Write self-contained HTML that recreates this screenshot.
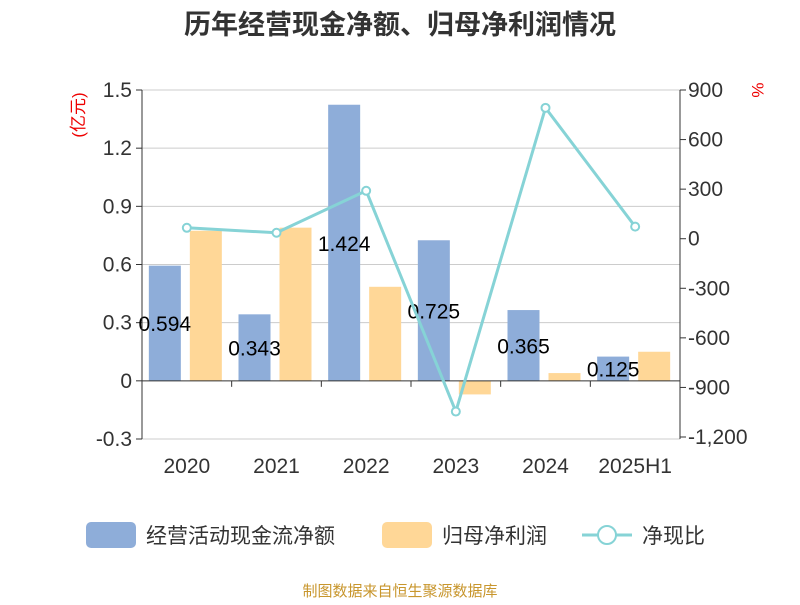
<!DOCTYPE html>
<html><head><meta charset="utf-8"><style>
body{margin:0;background:#fff;font-family:"Liberation Sans","Noto Sans CJK SC",sans-serif}
</style></head><body>
<svg id="c" width="800" height="600" xmlns="http://www.w3.org/2000/svg" font-family="Liberation Sans, Noto Sans CJK SC, sans-serif">
<text x="400" y="34" text-anchor="middle" font-size="27" font-weight="bold" fill="#333">历年经营现金净额、归母净利润情况</text>
<text transform="translate(84,115) rotate(-90)" text-anchor="middle" font-size="17" fill="#e00">(亿元)</text>
<text transform="translate(752,90) rotate(90)" text-anchor="middle" font-size="17" fill="#e00">%</text>
<g id="plot"></g>
<g>
<rect x="86" y="522" width="50" height="26" rx="5" fill="#8eadd9"/>
<text x="146" y="543" font-size="21" fill="#333">经营活动现金流净额</text>
<rect x="382" y="522" width="50" height="26" rx="5" fill="#ffd797"/>
<text x="442" y="543" font-size="21" fill="#333">归母净利润</text>
<line x1="582" y1="535" x2="632" y2="535" stroke="#86d3d6" stroke-width="3"/>
<circle cx="607" cy="535" r="9" fill="#fff" stroke="#86d3d6" stroke-width="2"/>
<text x="642" y="543" font-size="21" fill="#333">净现比</text>
</g>
<text x="400" y="596" text-anchor="middle" font-size="15" fill="#c8962d">制图数据来自恒生聚源数据库</text>
</svg>
<script>
const categories=["2020","2021","2022","2023","2024","2025H1"];
const cashFlow=[0.594,0.343,1.424,0.725,0.365,0.125];
const netProfit=[0.774,0.79,0.485,-0.07,0.04,0.15];
const ratio=[66,36,290,-1046,792,73];
const leftTicks=[1.5,1.2,0.9,0.6,0.3,0,-0.3];
const leftTickLabels=["1.5","1.2","0.9","0.6","0.3","0","-0.3"];
const rightTicks=[900,600,300,0,-300,-600,-900,-1200];
const rightTickLabels=["900","600","300","0","-300","-600","-900","-1,200"];
const NS="http://www.w3.org/2000/svg";
const g=document.getElementById('plot');
const X0=142,X1=680,T=90,B=439;
const yL=v=>T+(1.5-v)/1.8*(B-T);
const yR=v=>T+(900-v)/2100*(437-T);
const bw=(X1-X0)/categories.length;
const xc=i=>X0+bw*(i+0.5);
function mk(t,a){const e=document.createElementNS(NS,t);for(const k in a)e.setAttribute(k,a[k]);g.appendChild(e);return e;}
leftTicks.forEach((v,i)=>{
 const y=yL(v);
 if(v!==0){const l=mk('line',{x1:X0,x2:X1,y1:y,y2:y,stroke:'#ccc'});
 
 }
 const tk=mk('line',{x1:X0-6,x2:X0,y1:y,y2:y,stroke:'#333'});
 
 
 const t=mk('text',{x:X0-10,y:y+7,'text-anchor':'end','font-size':21,fill:'#333'});t.textContent=leftTickLabels[i];
 
 
});
rightTicks.forEach((v,i)=>{
 const y=yR(v);
 const tk=mk('line',{x1:X1,x2:X1+6,y1:y,y2:y,stroke:'#333'});
 
 
 const t=mk('text',{x:X1+8,y:y+7,'font-size':21,fill:'#333'});t.textContent=rightTickLabels[i];
 
 
});
categories.forEach((c,i)=>{
 const cx=xc(i);
 const b1=mk('rect',{x:cx-38,width:32,y:Math.min(yL(cashFlow[i]),yL(0)),height:Math.abs(yL(cashFlow[i])-yL(0)),fill:'#8eadd9'});
 
 
 const b2=mk('rect',{x:cx+3,width:32,y:Math.min(yL(netProfit[i]),yL(0)),height:Math.abs(yL(netProfit[i])-yL(0)),fill:'#ffd797'});
 
 
 const t=mk('text',{x:cx-22,y:(yL(cashFlow[i])+yL(0))/2+8,'text-anchor':'middle','font-size':21,fill:'#000'});t.textContent=cashFlow[i].toFixed(3);
 
 
 const xl=mk('text',{x:cx,y:473,'text-anchor':'middle','font-size':21,fill:'#333'});xl.textContent=c;
 
 
 const tk=mk('line',{x1:X0+bw*(i+1),x2:X0+bw*(i+1),y1:yL(0),y2:yL(0)+6,stroke:'#333'});
 
 
});
const ax=mk('line',{x1:X0,x2:X1,y1:yL(0),y2:yL(0),stroke:'#333'});


const la=mk('line',{x1:X0,x2:X0,y1:T,y2:B,stroke:'#333'});


const ra=mk('line',{x1:X1,x2:X1,y1:T,y2:B,stroke:'#333'});


const pl=mk('polyline',{points:ratio.map((v,i)=>xc(i)+','+yR(v)).join(' '),fill:'none',stroke:'#86d3d6','stroke-width':3});


ratio.forEach((v,i)=>{
 const p=mk('circle',{cx:xc(i),cy:yR(v),r:4,fill:'#fff',stroke:'#86d3d6','stroke-width':2});
 
 
});
</script>
</body></html>
